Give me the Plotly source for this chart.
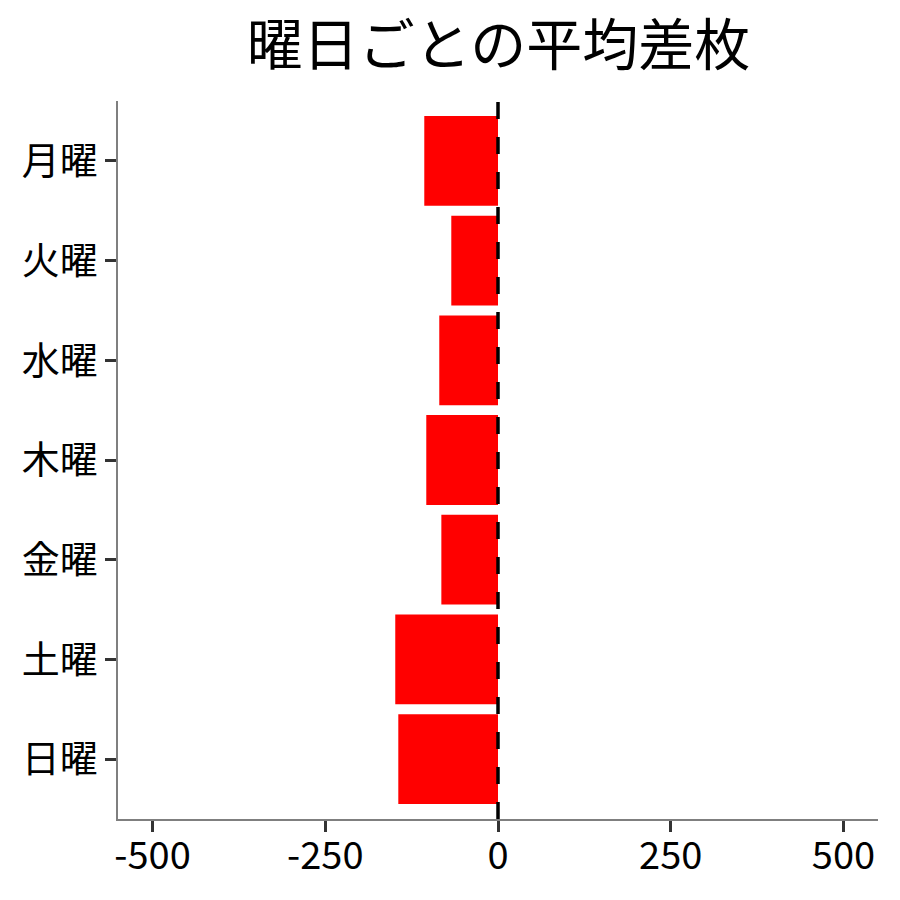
# 曜日ごとの平均差枚 — 横棒グラフ
import plotly.graph_objects as go

# 曜日と平均差枚
days = ['月曜', '火曜', '水曜', '木曜', '金曜', '土曜', '日曜']
avg_diff = [-106.7, -67.6, -85.0, -103.8, -82.0, -148.7, -144.3]

# 軸の目盛
x_ticks = [-500, -250, 0, 250, 500]

FONT = 'Noto Sans CJK JP'

fig = go.Figure(go.Bar(
    x=avg_diff,
    y=days,
    orientation='h',
    width=0.9,
    marker=dict(color='#FF0000', line=dict(width=0)),
))

# 0 の位置に破線
fig.add_vline(x=0, line=dict(color='black', width=3.5, dash='17px,18px'), layer='above')

fig.update_layout(
    width=900,
    height=900,
    paper_bgcolor='white',
    plot_bgcolor='white',
    font=dict(family=FONT, color='black'),
    title=dict(text='曜日ごとの平均差枚', x=0.554, xanchor='center', y=0.95, yanchor='middle',
               font=dict(size=56, family=FONT, color='black')),
    margin=dict(l=118, r=22, t=101, b=81),
    showlegend=False,
    bargap=0.1,
)

axis_style = dict(
    showgrid=False,
    zeroline=False,
    showline=True,
    linecolor='#7f7f7f',
    linewidth=1.5,
    ticks='outside',
    ticklen=11,
    tickwidth=3,
    tickcolor='#333333',
    tickfont=dict(size=38, family=FONT, color='black'),
)

fig.update_xaxes(
    range=[-550, 550],
    tickvals=x_ticks,
    ticktext=[str(v) for v in x_ticks],
    ticklabelstandoff=-8,
    **axis_style,
)

fig.update_yaxes(
    categoryorder='array',
    categoryarray=days[::-1],
    range=[-0.6, 6.6],
    **axis_style,
)

# ページの余白を消す
fig.write_html("out.html", config={'displayModeBar': False},
               post_script="document.body.style.margin='0';")
